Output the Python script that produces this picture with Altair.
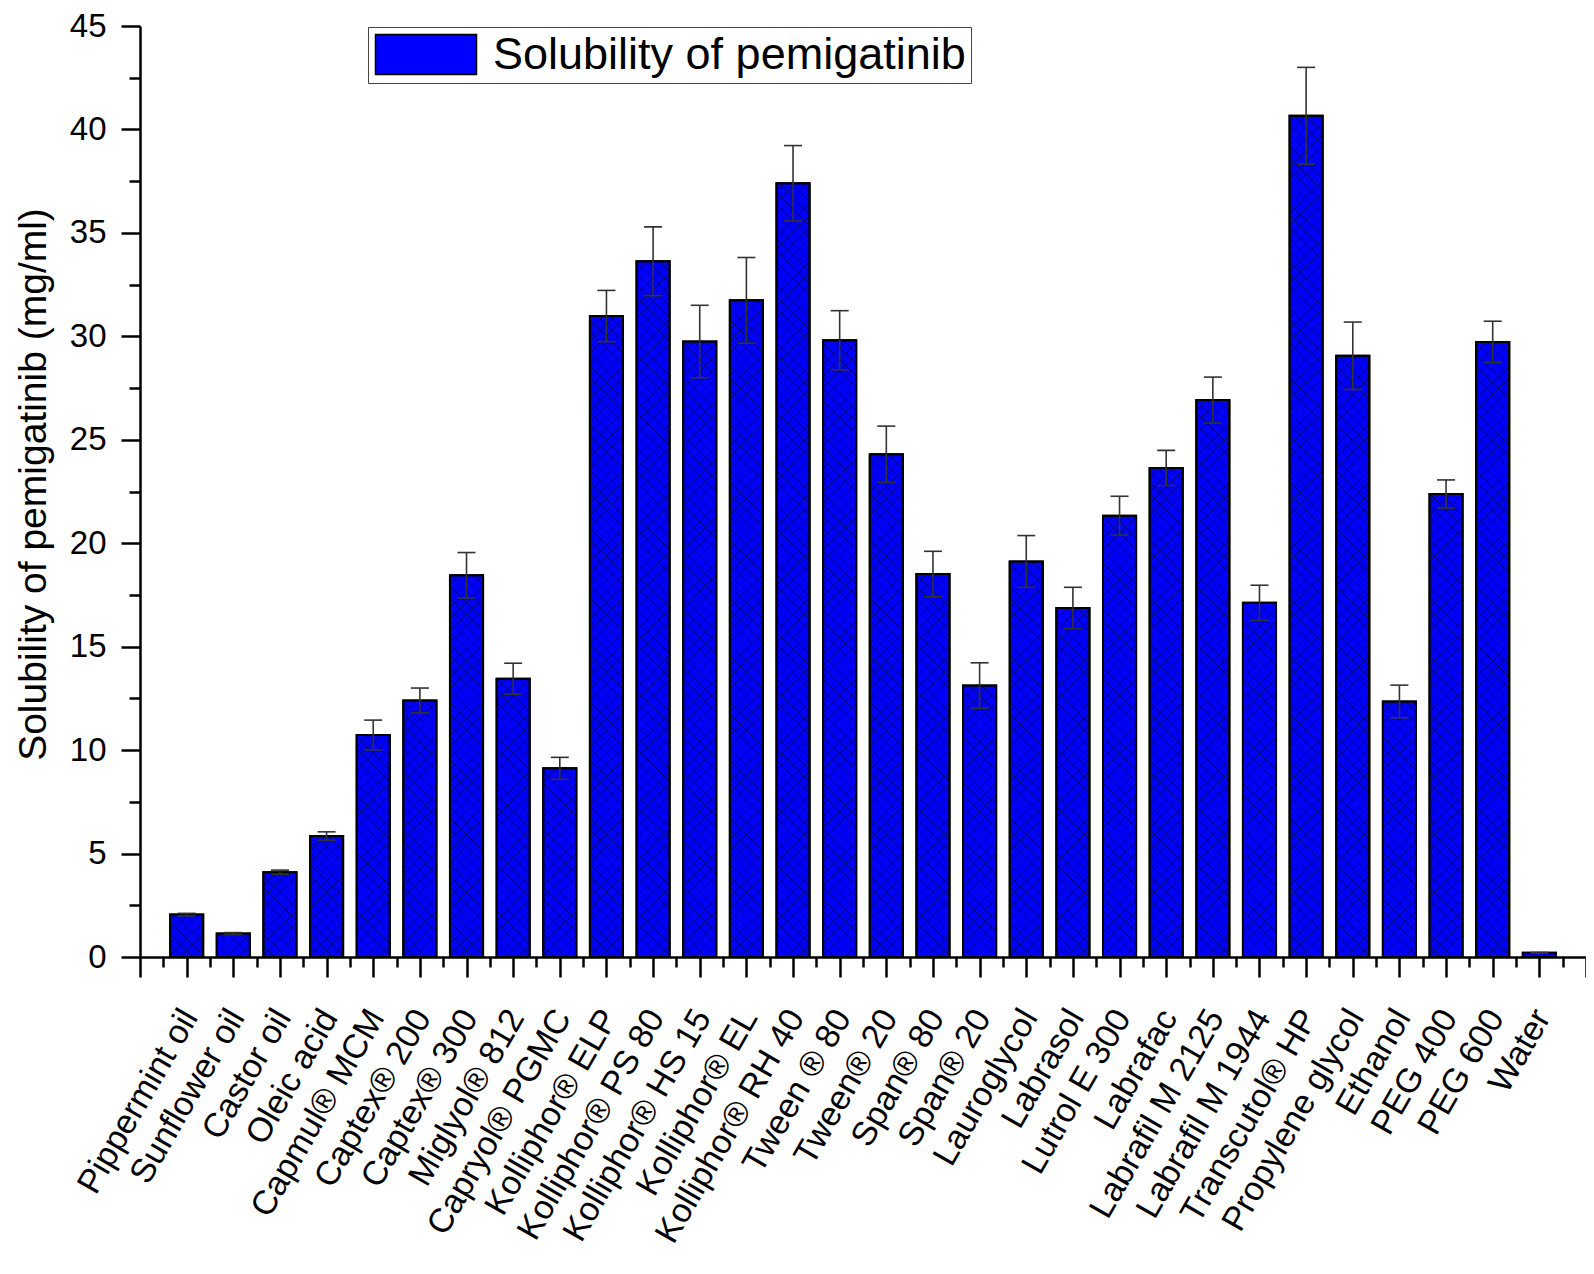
import json
import altair as alt
import pandas as pd

categories = ["Pippermint oil", "Sunflower oil", "Castor oil", "Oleic acid", "Capmul® MCM",
              "Captex® 200", "Captex® 300", "Miglyol® 812", "Capryol®  PGMC", "Kolliphor® ELP",
              "Kolliphor® PS 80", "Kolliphor® HS 15", "Kolliphor® EL", "Kolliphor® RH 40",
              "Tween ® 80", "Tween® 20", "Span® 80", "Span® 20", "Lauroglycol", "Labrasol",
              "Lutrol E 300", "Labrafac", "Labrafil M 2125", "Labrafil M 1944", "Transcutol® HP",
              "Propylene glycol", "Ethanol", "PEG 400", "PEG 600", "Water"]
solubility = [2.05, 1.13, 4.10, 5.85, 10.73, 12.40, 18.45, 13.45, 9.12, 30.98,
              33.63, 29.75, 31.74, 37.40, 29.81, 24.30, 18.51, 13.12, 19.12, 16.87,
              21.33, 23.64, 26.92, 17.12, 40.66, 29.06, 12.35, 22.38, 29.73, 0.20]
std_dev = [0.06, 0.05, 0.10, 0.20, 0.72, 0.60, 1.10, 0.75, 0.53, 1.24,
           1.66, 1.75, 2.07, 1.82, 1.43, 1.36, 1.10, 1.10, 1.25, 1.00,
           0.94, 0.85, 1.11, 0.85, 2.34, 1.63, 0.79, 0.68, 1.00, 0.02]
y_major_ticks = [0, 5, 10, 15, 20, 25, 30, 35, 40, 45]
y_minor_ticks = [2.5, 7.5, 12.5, 17.5, 22.5, 27.5, 32.5, 37.5, 42.5]
series_name = "Solubility of pemigatinib"
y_title = "Solubility of pemigatinib (mg/ml)"

FONT = "Liberation Sans"
PLOT_W, PLOT_H = 1446, 931
X_MAX = len(categories) + 1
Y_MAX = 45
HALF = 0.355
SLOPE = (PLOT_W / X_MAX) / (PLOT_H / Y_MAX)
RISE = 2 * HALF * SLOPE
STEP = 0.56

x_major = list(range(0, X_MAX + 1))
x_minor = [i + 0.5 for i in range(X_MAX)]

df = pd.DataFrame({
    "pos": list(range(1, len(categories) + 1)),
    "name": categories,
    "value": solubility,
    "err": std_dev,
    "series": series_name,
})

x_scale = alt.Scale(domain=[0, X_MAX], nice=False, zero=False)
y_scale = alt.Scale(domain=[0, Y_MAX], nice=False)

label_expr = json.dumps([""] + categories + [""], ensure_ascii=False) + "[round(datum.value)]"

x_axis = alt.Axis(values=x_major, orient="bottom", tickSize=20, tickWidth=2.5, tickColor="black",
                  domainColor="black", domainWidth=2.5, labelExpr=label_expr, labelAngle=300,
                  labelAlign="right", labelBaseline="middle", labelPadding=35, labelOffset=3,
                  labelFontSize=34, labelFont=FONT, labelColor="black", labelLimit=1000,
                  labelOverlap=False, labelFlush=False, grid=False, title=None)
y_axis = alt.Axis(values=y_major_ticks, orient="left", tickSize=19, tickWidth=2.5, tickColor="black",
                  domainColor="black", domainWidth=2.5, labelPadding=15, labelFontSize=33,
                  labelFont=FONT, labelColor="black", labelOverlap=False, labelFlush=False, grid=False,
                  title=y_title, titleFont=FONT, titleFontSize=39, titleFontWeight="normal",
                  titleColor="black", titleAngle=270, titleX=-95, titleY=458,
                  titleAlign="center", titleBaseline="alphabetic")
legend = alt.Legend(title=None, orient="none", legendX=228, legendY=1, direction="vertical",
                    symbolType="M-1,-1H4.05V1H-1Z", symbolSize=1600, symbolStrokeColor="black",
                    symbolStrokeWidth=1.5, labelFont=FONT, labelFontSize=45, labelColor="black",
                    labelLimit=2000, labelOffset=75, strokeColor="#444444", fillColor="white",
                    padding=5)

base = alt.Chart(df)

bars = base.mark_rect(stroke="black", strokeWidth=2).transform_calculate(
    xl=f"datum.pos - {HALF}", xr=f"datum.pos + {HALF}"
).encode(
    x=alt.X("xl:Q", scale=x_scale, axis=x_axis),
    x2="xr:Q",
    y=alt.Y("value:Q", scale=y_scale, axis=y_axis),
    y2=alt.datum(0),
    color=alt.Color("series:N", scale=alt.Scale(range=["#0000ff"]), legend=legend),
)

minor = base.mark_point(opacity=0).encode(
    x=alt.X("pos:Q", scale=x_scale,
            axis=alt.Axis(values=x_minor, orient="bottom", tickSize=10, tickWidth=2.5,
                          tickColor="black", labels=False, domain=False, grid=False, title=None)),
    y=alt.Y("value:Q", scale=y_scale,
            axis=alt.Axis(values=y_minor_ticks, orient="left", tickSize=11, tickWidth=2.5,
                          tickColor="black", labels=False, domain=False, grid=False, title=None)),
)

hatch_base = base.transform_calculate(k="sequence(1, 100)").transform_flatten(["k"]).transform_calculate(
    c=f"-{RISE} + datum.k * {STEP}"
).transform_filter("datum.c < datum.value").transform_calculate(
    ys="max(datum.c, 0)",
    ye=f"min(datum.c + {RISE}, datum.value)",
    dxs=f"max(0, -datum.c) / {SLOPE}",
    dxe=f"min({2 * HALF}, (datum.value - datum.c) / {SLOPE})",
).transform_calculate(
    ax1=f"datum.pos - {HALF} + datum.dxs",
    ax2=f"datum.pos - {HALF} + datum.dxe",
    bx1=f"datum.pos + {HALF} - datum.dxs",
    bx2=f"datum.pos + {HALF} - datum.dxe",
)

hatch_a = hatch_base.mark_rule(color="black", strokeWidth=0.9, opacity=0.55).encode(
    x=alt.X("ax1:Q", scale=x_scale, axis=None), x2="ax2:Q",
    y=alt.Y("ys:Q", scale=y_scale, axis=None), y2="ye:Q",
)
hatch_b = hatch_base.mark_rule(color="black", strokeWidth=0.9, opacity=0.55).encode(
    x=alt.X("bx1:Q", scale=x_scale, axis=None), x2="bx2:Q",
    y=alt.Y("ys:Q", scale=y_scale, axis=None), y2="ye:Q",
)

outline = base.mark_rect(fillOpacity=0, stroke="black", strokeWidth=2).transform_calculate(
    xl=f"datum.pos - {HALF}", xr=f"datum.pos + {HALF}"
).encode(
    x=alt.X("xl:Q", scale=x_scale, axis=None),
    x2="xr:Q",
    y=alt.Y("value:Q", scale=y_scale, axis=None),
    y2=alt.datum(0),
)

err_base = base.transform_calculate(lo="datum.value - datum.err", hi="datum.value + datum.err")
err_rule = err_base.mark_rule(color="#333333", strokeWidth=1.6).encode(
    x=alt.X("pos:Q", scale=x_scale, axis=None),
    y=alt.Y("lo:Q", scale=y_scale, axis=None), y2="hi:Q",
)
cap_hi = err_base.mark_tick(orient="horizontal", size=18, thickness=1.6, color="#333333", opacity=1).encode(
    x=alt.X("pos:Q", scale=x_scale, axis=None),
    y=alt.Y("hi:Q", scale=y_scale, axis=None),
)
cap_lo = err_base.mark_tick(orient="horizontal", size=18, thickness=1.6, color="#333333", opacity=1).encode(
    x=alt.X("pos:Q", scale=x_scale, axis=None),
    y=alt.Y("lo:Q", scale=y_scale, axis=None),
)

chart = alt.layer(bars, minor, hatch_a, hatch_b, outline, err_rule, cap_hi, cap_lo).resolve_axis(
    x="independent", y="independent"
).properties(
    width=PLOT_W, height=PLOT_H,
    autosize=alt.AutoSizeParams(type="none"),
    padding={"left": 132, "top": 18, "right": 0, "bottom": 300},
    background="white",
).configure_view(stroke=None)

chart.save("out.html", embed_options={"renderer": "svg", "actions": False})
